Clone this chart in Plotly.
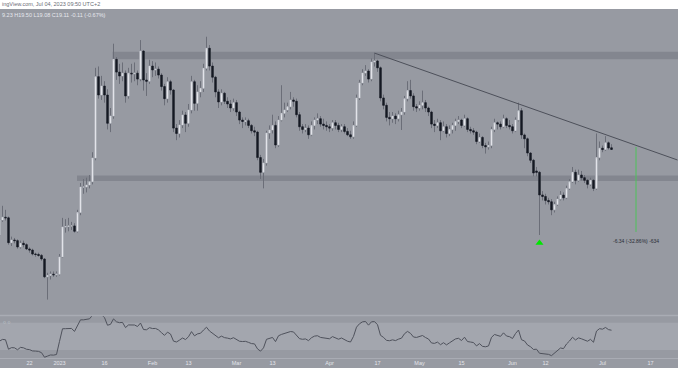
import plotly.graph_objects as go
import pandas as pd

# ---------------- data (daily candles, Dec 12 2022 -> Jul 4 2023) ----------------
start_date = "2022-12-12"

opens = [
    12.72,13.84,14.05,14.00,12.15,12.35,12.30,11.83,12.10,12.00,11.68,11.60,11.30,11.27,11.20,10.93,9.60,9.70,9.80,9.75,
    9.80,11.08,13.32,13.35,13.40,13.40,13.00,14.40,16.30,16.30,16.45,16.70,18.47,24.54,23.17,23.84,23.17,21.06,21.60,25.83,
    24.88,24.59,24.80,23.10,24.80,24.75,24.80,24.36,26.45,24.29,24.20,
    25.33,25.04,25.10,24.66,23.80,22.90,24.16,23.54,20.70,20.30,20.93,21.68,21.06,22.05,24.16,22.55,23.40,23.67,25.16,26.66,
    25.33,24.50,23.40,22.65,23.30,22.70,22.50,22.20,
    22.60,21.90,21.30,21.20,21.25,20.90,20.50,20.40,18.50,17.40,18.10,20.33,20.56,20.90,19.44,21.30,21.80,22.05,22.30,22.80,
    22.70,21.70,20.80,20.60,20.70,20.20,20.90,21.30,21.40,21.00,20.90,
    20.80,20.70,21.10,20.90,20.60,20.80,20.45,20.20,20.05,20.90,22.95,24.07,24.81,24.96,24.36,25.63,25.71,25.20,22.95,22.40,
    21.50,21.40,21.60,21.40,21.70,21.90,22.90,23.50,23.10,22.30,
    22.20,22.40,22.60,22.20,21.90,21.00,20.90,21.10,20.50,20.80,20.30,20.60,20.90,21.20,21.30,20.90,21.40,20.60,20.50,20.40,
    19.70,20.00,19.40,19.30,19.40,20.60,21.10,21.00,20.80,21.40,20.90,
    20.80,20.50,21.30,22.00,20.19,19.90,18.84,18.30,17.50,17.40,15.71,15.60,15.30,15.20,14.60,15.00,15.40,15.70,15.50,16.20,
    16.70,17.40,16.80,17.20,17.00,16.80,16.50,16.80,16.20,18.50,
    19.20,19.10,19.60,19.23,
]
highs = [
    14.00,14.90,14.60,14.10,12.60,12.50,12.40,12.30,12.30,12.10,11.80,11.70,11.40,11.40,11.30,11.00,9.90,10.00,10.00,10.00,
    11.30,14.00,13.90,14.00,13.70,13.60,14.60,16.60,16.90,17.00,17.20,18.90,25.20,25.30,24.60,24.20,23.60,22.20,27.00,26.00,
    25.50,25.60,25.00,25.20,25.50,25.60,25.00,27.27,26.50,24.80,25.80,
    25.70,25.60,25.30,24.80,24.00,24.50,24.30,23.60,21.00,21.30,22.00,21.90,22.50,24.60,24.30,23.90,24.20,25.50,27.52,26.90,
    25.60,24.60,23.60,23.60,23.40,23.00,22.80,22.90,
    22.80,22.00,21.50,21.50,21.40,21.00,20.80,20.50,18.70,18.40,20.50,20.90,21.70,21.20,21.60,23.90,22.60,22.60,23.40,23.00,
    22.90,21.90,21.00,21.00,20.90,21.20,21.50,21.80,21.60,21.40,21.20,
    21.00,21.30,21.30,21.10,21.00,21.00,20.70,20.50,21.20,23.20,24.30,25.10,25.40,25.10,25.90,26.30,25.80,25.30,23.20,22.60,
    21.90,21.90,21.80,22.00,22.20,23.10,24.20,24.30,23.30,22.50,
    22.70,23.50,22.80,22.30,22.00,21.30,21.40,21.30,21.20,21.00,20.90,21.10,21.40,21.60,21.40,21.70,21.50,20.80,20.70,20.50,
    20.30,20.10,19.60,19.70,20.80,21.40,21.20,21.20,21.70,21.50,21.30,
    21.00,21.50,22.60,22.20,20.30,20.00,18.90,18.40,17.80,17.50,16.00,15.80,15.50,15.40,15.20,15.60,16.00,15.90,16.40,16.90,
    17.80,17.60,17.60,17.50,17.20,16.90,17.00,16.90,20.30,19.70,
    19.40,20.10,19.70,19.50,
]
lows = [
    12.60,13.70,13.80,12.00,11.90,12.10,11.70,11.70,11.80,11.60,11.40,11.20,11.10,11.10,10.80,9.50,7.90,9.40,9.60,9.60,
    9.70,11.00,12.90,13.00,13.10,12.90,12.90,14.20,15.80,15.90,16.20,16.50,18.30,22.90,22.80,22.60,20.60,20.40,21.40,24.30,
    24.00,24.20,22.60,22.90,24.10,24.20,23.90,24.20,23.50,23.10,24.00,
    24.50,24.60,24.40,23.50,22.40,22.60,23.20,20.40,19.80,20.00,20.70,20.40,20.80,21.80,22.00,22.00,23.00,23.40,25.00,25.00,
    24.10,23.00,22.20,22.40,22.50,22.20,21.90,22.00,
    21.60,21.00,20.70,20.90,20.70,20.30,20.10,18.30,16.90,16.20,17.90,19.90,20.30,19.20,19.30,21.20,21.50,21.90,22.10,22.30,
    21.50,20.50,20.30,20.40,19.90,20.10,20.60,21.00,20.80,20.60,20.50,
    20.40,20.50,20.60,20.40,20.40,20.30,20.10,19.90,19.90,20.80,22.80,23.90,24.60,24.10,24.20,25.30,24.90,22.70,22.10,21.20,
    20.90,21.10,21.00,21.20,20.56,21.70,22.70,22.90,22.00,21.90,
    22.00,22.10,21.90,21.60,20.70,20.40,20.70,19.80,20.40,20.00,20.10,20.30,20.50,21.00,20.70,20.80,20.40,20.30,20.20,19.50,
    19.60,19.20,18.80,19.10,19.20,20.40,20.60,20.60,20.70,20.70,20.60,
    20.30,20.40,21.20,19.90,19.20,18.60,18.10,17.10,17.10,12.72,15.30,15.00,15.00,14.20,14.40,14.90,15.30,15.30,15.40,16.10,
    16.60,16.50,16.70,16.80,16.60,16.20,16.40,16.00,16.10,18.30,
    18.90,19.00,19.10,19.08,
]
closes = [
    13.84,14.05,14.00,12.15,12.35,12.30,11.83,12.10,12.00,11.68,11.60,11.30,11.27,11.20,10.93,9.60,9.70,9.80,9.75,9.80,
    11.08,13.32,13.35,13.40,13.40,13.00,14.40,16.30,16.30,16.45,16.70,18.47,24.54,23.17,23.84,23.17,21.06,21.60,25.83,24.88,
    24.59,24.80,23.10,24.80,24.75,24.80,24.36,26.45,24.29,24.20,25.33,
    25.04,25.10,24.66,23.80,22.90,24.16,23.54,20.70,20.30,20.93,21.68,21.06,22.05,24.16,22.55,23.40,23.67,25.16,26.66,25.33,
    24.50,23.40,22.65,23.30,22.70,22.50,22.20,22.60,
    21.90,21.30,21.20,21.25,20.90,20.50,20.40,18.50,17.40,18.10,20.33,20.56,20.90,19.44,21.30,21.80,22.05,22.30,22.80,22.70,
    21.70,20.80,20.60,20.70,20.20,20.90,21.30,21.40,21.00,20.90,20.80,
    20.70,21.10,20.90,20.60,20.80,20.45,20.20,20.05,20.90,22.95,24.07,24.81,24.96,24.36,25.63,25.71,25.20,22.95,22.40,21.50,
    21.40,21.60,21.40,21.70,21.90,22.90,23.50,23.10,22.30,22.20,
    22.40,22.60,22.20,21.90,21.00,20.90,21.10,20.50,20.80,20.30,20.60,20.90,21.20,21.30,20.90,21.40,20.60,20.50,20.40,19.70,
    20.00,19.40,19.30,19.40,20.60,21.10,21.00,20.80,21.40,20.90,20.80,
    20.50,21.30,22.00,20.19,19.90,18.84,18.30,17.35,17.40,15.71,15.60,15.30,15.20,14.60,15.00,15.40,15.70,15.50,16.20,16.70,
    17.40,16.80,17.20,17.00,16.80,16.50,16.80,16.20,18.50,19.20,
    19.10,19.60,19.22,19.11,
]
dates = pd.date_range(start_date, periods=len(closes), freq="D")

# RSI(14), seeded with the value read at the left edge of the pane
rsi_period = 14
rsi_seed = 43.0
seed_move = 0.35

tick_dates = ["2022-12-12", "2022-12-22", "2023-01-01", "2023-01-16", "2023-02-01", "2023-02-13",
              "2023-03-01", "2023-03-13", "2023-04-01", "2023-04-17", "2023-05-01", "2023-05-15",
              "2023-06-01", "2023-06-12", "2023-07-01", "2023-07-17"]
tick_labels = ["12", "22", "2023", "16", "Feb", "13", "Mar", "13", "Apr", "17", "May", "15",
               "Jun", "12", "Jul", "17"]

# drawings on the chart
resistance_zone = (25.83, 26.40, "2023-01-18 16:00")
support_zone = (16.75, 17.16, "2023-01-06 20:00")
trend_start = ("2023-04-16", 26.30)
trend_end = ("2023-07-26", 18.32)
measure_date = "2023-07-12 04:00"
measure_top = 19.29
measure_bottom = 12.95
measure_text = "-6.34 (-32.86%) -634"
signal_date = "2023-06-10"
signal_price = 12.13

# ---------------- computations ----------------
ag = seed_move * rsi_seed / 100.0
al = seed_move * (1 - rsi_seed / 100.0)
rsi = [rsi_seed]
for i in range(1, len(closes)):
    d = closes[i] - closes[i - 1]
    ag = (ag * (rsi_period - 1) + max(d, 0)) / rsi_period
    al = (al * (rsi_period - 1) + max(-d, 0)) / rsi_period
    rsi.append(100 - 100 / (1 + ag / al) if al > 0 else 100)

body_hi = [max(o, c) for o, c in zip(opens, closes)]
body_lo = [min(o, c) for o, c in zip(opens, closes)]

# ---------------- figure ----------------
W, H = 678, 381
BG = "#979aa2"
UP = "#eceef3"
DN = "#161a24"
WICK = "#6b6e78"

def py(p):
    return 1 - p / H

fig = go.Figure()

# wicks
fig.add_trace(go.Candlestick(
    x=dates, open=opens, high=highs, low=lows, close=closes,
    increasing=dict(line=dict(color=WICK, width=1), fillcolor=UP),
    decreasing=dict(line=dict(color=WICK, width=1), fillcolor=DN),
    whiskerwidth=0, hoverinfo="skip", xaxis="x", yaxis="y", showlegend=False))
# bodies
fig.add_trace(go.Candlestick(
    x=dates, open=opens, high=body_hi, low=body_lo, close=closes,
    increasing=dict(line=dict(color="#c9ccd4", width=0.6), fillcolor=UP),
    decreasing=dict(line=dict(color=DN, width=0.6), fillcolor=DN),
    whiskerwidth=0, hoverinfo="skip", xaxis="x", yaxis="y", showlegend=False))

# signal triangle
fig.add_trace(go.Scatter(
    x=[signal_date], y=[signal_price], mode="markers",
    marker=dict(symbol="triangle-up", size=7, color="#00e600", line=dict(width=0)),
    xaxis="x", yaxis="y", showlegend=False, hoverinfo="skip"))

# RSI
fig.add_trace(go.Scatter(
    x=dates, y=rsi, mode="lines", line=dict(color="#4f525c", width=1),
    xaxis="x2", yaxis="y2", showlegend=False, hoverinfo="skip"))

x_range = ["2022-12-12 04:00", "2023-07-26 04:00"]

shapes = [
    # grey chart background
    dict(type="rect", xref="paper", yref="paper", x0=0, x1=1, y0=py(368), y1=py(9),
         fillcolor=BG, line=dict(width=0), layer="below"),
    # RSI 30-70 band
    dict(type="rect", xref="paper", yref="y2", x0=0, x1=1, y0=30, y1=70,
         fillcolor="#a3a6ae", line=dict(width=0), layer="below"),
    # pane separators
    dict(type="line", xref="paper", yref="paper", x0=0, x1=1, y0=py(315.5), y1=py(315.5),
         line=dict(color="#a9acb4", width=1.5)),
    dict(type="line", xref="paper", yref="paper", x0=0, x1=1, y0=py(358.5), y1=py(358.5),
         line=dict(color="#a9acb4", width=1)),
    # zones
    dict(type="rect", xref="x", yref="y", x0=resistance_zone[2], x1="2023-09-01",
         y0=resistance_zone[0], y1=resistance_zone[1],
         fillcolor="#83868f", line=dict(width=0), layer="below"),
    dict(type="rect", xref="x", yref="y", x0=support_zone[2], x1="2023-09-01",
         y0=support_zone[0], y1=support_zone[1],
         fillcolor="#83868f", line=dict(width=0), layer="below"),
    # trend line
    dict(type="line", xref="x", yref="y", x0=trend_start[0], y0=trend_start[1],
         x1=trend_end[0], y1=trend_end[1], line=dict(color="#4d505a", width=1)),
    # measure line
    dict(type="line", xref="x", yref="y", x0=measure_date, x1=measure_date,
         y0=measure_bottom, y1=measure_top, line=dict(color="#4fc25a", width=1)),
]

annotations = [
    dict(text="ingView.com, Jul 04, 2023 09:50 UTC+2", xref="paper", yref="paper",
         x=0, y=py(4.5), xanchor="left", yanchor="middle", showarrow=False,
         font=dict(size=5.5, color="#6a6d76", family="Arial")),
    dict(text="9.23 H19.50 L19.08 C19.11 -0.11 (-0.67%)", xref="paper", yref="paper",
         x=0, y=py(14.5), xanchor="left", yanchor="middle", showarrow=False,
         font=dict(size=5.5, color="#e6e8ee", family="Arial")),
    dict(text="○ ○", xref="paper", yref="paper", x=0.002, y=py(322), xanchor="left",
         yanchor="middle", showarrow=False, font=dict(size=5, color="#dfe1e7", family="Arial")),
    dict(text=measure_text, xref="x", yref="paper", x=measure_date, y=py(241),
         xanchor="center", yanchor="middle", showarrow=False,
         font=dict(size=5, color="#2a2d36", family="Arial")),
]

fig.update_layout(
    width=W, height=H, margin=dict(l=0, r=0, t=0, b=0),
    paper_bgcolor="#ffffff", plot_bgcolor="rgba(0,0,0,0)",
    shapes=shapes, annotations=annotations, showlegend=False,
    xaxis=dict(domain=[0, 1], anchor="y", range=x_range, type="date",
               showgrid=False, zeroline=False, showticklabels=False, ticks="",
               rangeslider=dict(visible=False), matches="x2", fixedrange=True),
    yaxis=dict(domain=[py(315), py(9)], range=[6.75, 29.59], showgrid=False,
               zeroline=False, showticklabels=False, ticks="", fixedrange=True),
    xaxis2=dict(domain=[0, 1], anchor="y2", range=x_range, type="date",
                showgrid=False, zeroline=False, tickmode="array",
                tickvals=tick_dates, ticktext=tick_labels, ticks="",
                tickfont=dict(size=5.5, color="#e3e5eb", family="Arial"),
                rangeslider=dict(visible=False), fixedrange=True),
    yaxis2=dict(domain=[py(358), py(316)], range=[18.3, 79.8], showgrid=False,
                zeroline=False, showticklabels=False, ticks="", fixedrange=True),
)

fig.write_html("out.html", config={"displayModeBar": False},
               post_script="document.body.style.margin='0px';document.body.style.overflow='hidden';")
